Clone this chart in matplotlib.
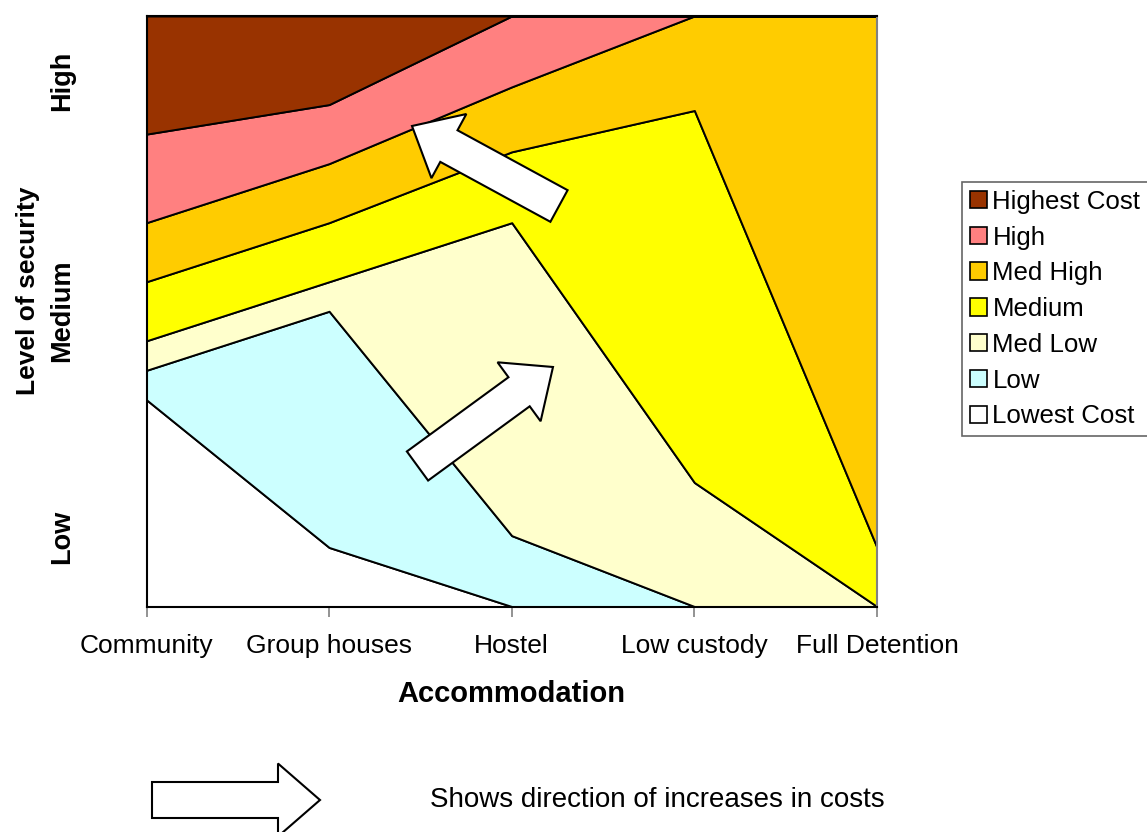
import numpy as np
import matplotlib
matplotlib.use("Agg")
import matplotlib.pyplot as plt
from matplotlib.patches import Patch, Polygon

plt.rcParams['font.family'] = ['Liberation Sans', 'DejaVu Sans']

# accommodation types along the x axis
categories = ["Community", "Group houses", "Hostel", "Low custody", "Full Detention"]

# cost bands, stacked bottom to top
lowest_cost = [35, 10, 0, 0, 0]
low = [5, 40, 12, 0, 0]
med_low = [5, 5, 53, 21, 0]
medium = [10, 10, 12, 63, 10]
med_high = [10, 10, 11, 16, 90]
high = [15, 10, 12, 0, 0]
highest_cost = [20, 15, 0, 0, 0]

band_labels = ["Lowest Cost", "Low", "Med Low", "Medium", "Med High", "High", "Highest Cost"]
band_colors = ["#FFFFFF", "#CCFFFF", "#FFFFCC", "#FFFF00", "#FFCC00", "#FF8080", "#993300"]

security_labels = ["High", "Medium", "Low"]

W, H = 1147, 832


def px(x, y):
    # pixel position (y measured from top) -> figure fraction
    return (x / W, 1 - y / H)


def block_arrow(fig, tail, tip, shaft_w=36, head_w=73, head_len=42):
    tail = np.array(tail, float)
    tip = np.array(tip, float)
    d = tip - tail
    u = d / np.hypot(*d)
    n = np.array([-u[1], u[0]])
    base = tip - u * head_len
    pts = [tail + n * shaft_w / 2, base + n * shaft_w / 2, base + n * head_w / 2,
           tip, base - n * head_w / 2, base - n * shaft_w / 2, tail - n * shaft_w / 2]
    pts = [px(p[0], p[1]) for p in pts]
    poly = Polygon(pts, closed=True, facecolor="white", edgecolor="black",
                   linewidth=1.5, transform=fig.transFigure, zorder=5)
    fig.patches.append(poly)


fig = plt.figure(figsize=(W / 100, H / 100), dpi=100)
left, top, right, bottom = 146.5, 16, 877, 606.5
ax = fig.add_axes([left / W, 1 - bottom / H, (right - left) / W, (bottom - top) / H])

x = np.arange(len(categories))
series = [lowest_cost, low, med_low, medium, med_high, high, highest_cost]
ax.stackplot(x, *series, colors=band_colors, edgecolor="black", linewidth=1.4)

ax.set_xlim(0, len(categories) - 1)
ax.set_ylim(0, 100)
ax.set_xticks(x)
ax.set_xticklabels(categories, fontsize=19)
ax.tick_params(axis="x", direction="out", length=7, width=1.2, color="#808080", pad=13)
ax.set_yticks([])
for side in ["left", "bottom", "top"]:
    ax.spines[side].set_color("black")
    ax.spines[side].set_linewidth(1.5)
ax.spines["right"].set_color("#808080")
ax.spines["right"].set_linewidth(1.5)

ax.set_xlabel("Accommodation", fontsize=21, fontweight="bold", labelpad=16)

# security level labels up the left side
fig.text(*px(28, 291), "Level of security", rotation=90, fontsize=19, fontweight="bold",
         ha="center", va="center")
for lab, yy in zip(security_labels, [81, 311, 537]):
    fig.text(*px(62, yy), lab, rotation=90, fontsize=19.5, fontweight="bold",
             ha="center", va="center")

handles = [Patch(facecolor=c, edgecolor="black", linewidth=1.2, label=l)
           for c, l in zip(band_colors[::-1], band_labels[::-1])]
leg = fig.legend(handles=handles, loc="upper left", bbox_to_anchor=px(962, 182),
                 fontsize=18.6, frameon=True, fancybox=False, borderaxespad=0,
                 handlelength=0.66, handleheight=0.66, handletextpad=0.22,
                 labelspacing=0.455, borderpad=0.3)
leg.get_frame().set_edgecolor("#404040")
leg.get_frame().set_linewidth(1.2)

# arrows showing which way costs rise
block_arrow(fig, (559, 206), (412, 126))
block_arrow(fig, (417.5, 466), (553, 367))
block_arrow(fig, (152, 800), (320, 800))
fig.text(*px(430, 800), "Shows direction of increases in costs", fontsize=20,
         ha="left", va="center")

fig.savefig("out.png", dpi=100)
